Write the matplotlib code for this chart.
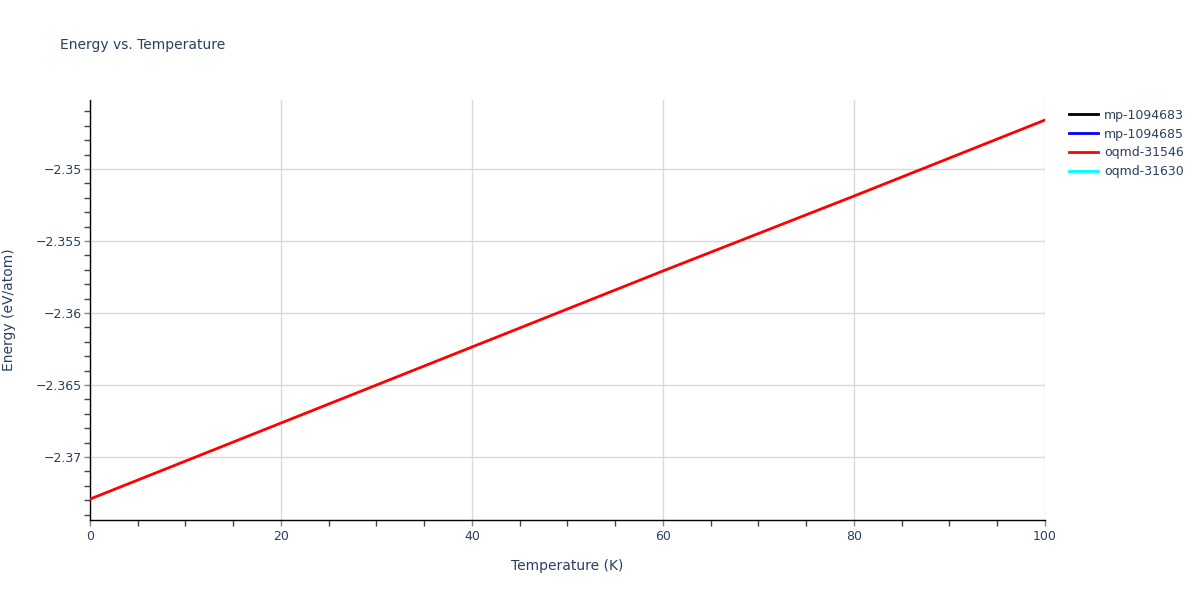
import matplotlib.pyplot as plt
import matplotlib.ticker as mticker
from matplotlib.lines import Line2D

# data
temperature = [0, 10, 20, 30, 40, 50, 60, 70, 80, 90, 100]
energy_oqmd_31546 = [-2.37292, -2.37028, -2.36764, -2.36500, -2.36236, -2.35972,
                     -2.35708, -2.35448, -2.35188, -2.34924, -2.34660]
series_names = ['mp-1094683', 'mp-1094685', 'oqmd-31546', 'oqmd-31630']
series_colors = ['black', 'blue', 'red', 'cyan']

txt = '#2a3f5f'
plt.rcParams['font.family'] = ['DejaVu Sans']

fig = plt.figure(figsize=(12, 6), dpi=100)
ax = fig.add_axes([0.075, 0.1333, 0.7958, 0.7])

ax.plot(temperature, energy_oqmd_31546, color='red', lw=2, zorder=3)

ax.set_xlim(0, 100)
ax.set_ylim(-2.374375, -2.34521)

ax.xaxis.set_major_locator(mticker.MultipleLocator(20))
ax.xaxis.set_minor_locator(mticker.MultipleLocator(5))
ax.yaxis.set_major_locator(mticker.MultipleLocator(0.005))
ax.yaxis.set_minor_locator(mticker.MultipleLocator(0.001))
ax.yaxis.set_major_formatter(mticker.FuncFormatter(lambda v, p: ('%g' % round(v, 4)).replace('-', '\u2212')))

ax.grid(True, which='major', color='#d9d9d9', lw=1)
ax.set_axisbelow(True)
for s in ['top', 'right']:
    ax.spines[s].set_visible(False)
for s in ['left', 'bottom']:
    ax.spines[s].set_color('black')
    ax.spines[s].set_linewidth(1)

ax.tick_params(which='major', length=4, color='#888888', width=1, labelsize=9, labelcolor=txt)
ax.tick_params(axis='y', which='major', pad=2)
ax.tick_params(axis='x', which='major', pad=3)
ax.tick_params(which='minor', length=4, color='#444444', width=1)

ax.set_xlabel('Temperature (K)', fontsize=10, color=txt, labelpad=12)
ax.set_ylabel('Energy (eV/atom)', fontsize=10, color=txt, labelpad=14)
fig.text(0.05, 0.925, 'Energy vs. Temperature', fontsize=10, color=txt, va='center')

handles = [Line2D([], [], color=c, lw=2) for c in series_colors]
leg = fig.legend(handles, series_names, loc='upper left', bbox_to_anchor=(0.887, 0.827),
                 frameon=False, fontsize=9, handlelength=2.3, handletextpad=0.45,
                 labelspacing=0.46, borderaxespad=0)
for t in leg.get_texts():
    t.set_color(txt)

fig.savefig('out.png', dpi=100)
